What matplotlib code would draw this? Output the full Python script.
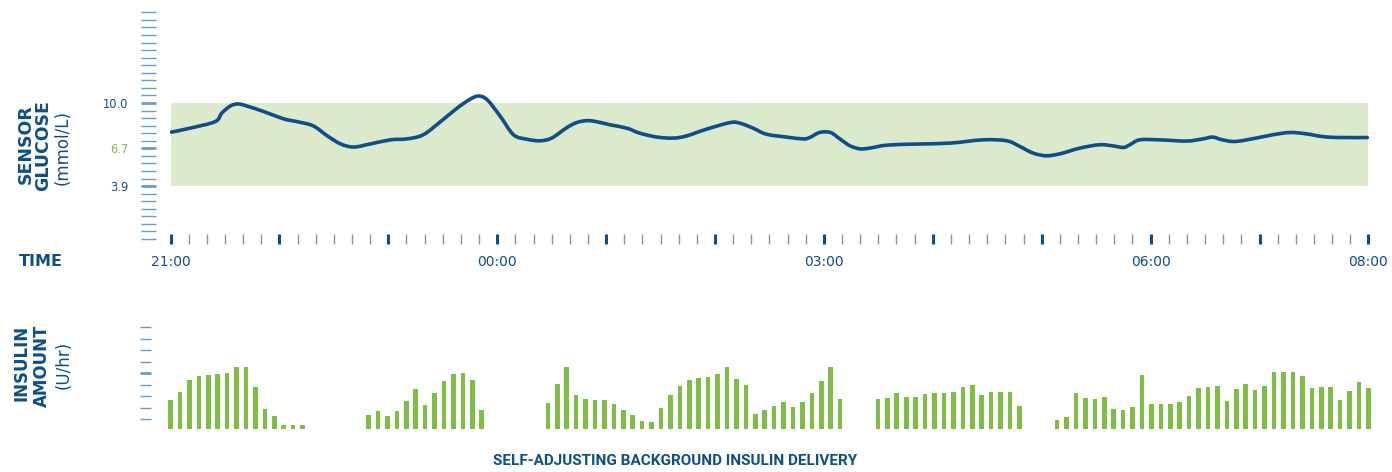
import numpy as np
import matplotlib
matplotlib.use('Agg')
import matplotlib.pyplot as plt
from matplotlib.path import Path
from matplotlib.patches import PathPatch

# sensor glucose trace, hours after 21:00 -> mmol/L
glucose_t = [0.01, 0.18, 0.41, 0.47, 0.55, 0.62, 0.70, 0.86, 1.04, 1.16, 1.31, 1.44,
             1.56, 1.68, 1.83, 2.02, 2.17, 2.32, 2.48, 2.63, 2.75, 2.83, 2.91, 3.03,
             3.15, 3.27, 3.39, 3.50, 3.64, 3.73, 3.82, 3.91, 4.04, 4.19, 4.31, 4.47,
             4.62, 4.74, 4.92, 5.14, 5.23, 5.35, 5.47, 5.66, 5.81, 5.87, 5.96, 6.06,
             6.15, 6.24, 6.33, 6.42, 6.58, 6.85, 7.16, 7.46, 7.68, 7.80, 7.92, 8.04,
             8.17, 8.35, 8.53, 8.65, 8.75, 8.81, 8.90, 9.08, 9.33, 9.48, 9.57, 9.66,
             9.78, 9.97, 10.12, 10.28, 10.43, 10.58, 10.73, 10.99]
glucose_mmol = [7.86, 8.15, 8.63, 9.25, 9.78, 9.93, 9.78, 9.36, 8.83, 8.63, 8.32, 7.58,
                7.00, 6.76, 6.98, 7.29, 7.36, 7.66, 8.63, 9.61, 10.27, 10.51, 10.22, 9.00,
                7.66, 7.34, 7.22, 7.42, 8.19, 8.56, 8.70, 8.63, 8.39, 8.15, 7.78, 7.49,
                7.42, 7.58, 8.07, 8.56, 8.51, 8.15, 7.71, 7.49, 7.36, 7.46, 7.83, 7.83,
                7.34, 6.85, 6.63, 6.68, 6.90, 6.98, 7.05, 7.29, 7.22, 6.80, 6.32, 6.12,
                6.27, 6.68, 6.93, 6.85, 6.73, 6.93, 7.29, 7.29, 7.20, 7.36, 7.49, 7.29,
                7.17, 7.42, 7.66, 7.83, 7.73, 7.53, 7.46, 7.46]

target_low = 3.9
target_high = 10.0

# insulin delivery per slot (128 slots over 21:00-08:00), None = no delivery
insulin_rate = [2.56, 3.29, 4.30, 4.68, 4.74, 4.83, 4.91, 5.44, 5.44, 3.69, 1.77, 1.16, 0.41, 0.41, 0.41,
                None, None, None, None, None, None,
                1.28, 1.57, 1.16, 1.57, 2.44, 3.55, 2.09, 3.20, 4.19, 4.86, 4.94, 4.28, 1.69,
                None, None, None, None, None, None,
                2.27, 3.93, 5.47, 2.97, 2.62, 2.59, 2.59, 2.18, 1.69, 1.28, 0.70, 0.67, 1.83, 2.97,
                3.81, 4.28, 4.45, 4.57, 4.83, 5.44, 4.42, 3.84, 1.34, 1.66, 2.04, 2.39, 1.98, 2.39,
                3.14, 4.22, 5.44, 2.68,
                None, None, None,
                2.68, 2.76, 3.14, 2.85, 2.85, 3.11, 3.20, 3.14, 3.26, 3.66, 3.90, 3.02, 3.23, 3.23,
                3.23, 2.07,
                None, None, None,
                0.79, 1.08, 3.14, 2.76, 2.68, 2.85, 1.80, 1.69, 1.98, 4.71, 2.21, 2.18, 2.21, 2.36,
                2.88, 3.58, 3.66, 3.81, 2.44, 3.52, 3.96, 3.43, 3.81, 5.03, 5.03, 5.03, 4.65, 3.58,
                3.66, 3.66, 2.56, 3.37, 4.10, 3.58]

hour_labels = ['21:00', '', '', '00:00', '', '', '03:00', '', '', '06:00', '', '08:00']

NAVY = '#0c4f8b'
LIGHT = '#6a9bc9'
GREEN = '#7dbe45'
BAND = '#dce9cb'

W, H = 1392, 472
PX_HR = 108.9
X0 = 170.5


def xl(px):
    return (px - X0) / PX_HR


def smooth_path(xs, ys):
    # catmull-rom through the read points, drawn as cubic bezier segments
    x = np.asarray(xs)
    y = np.asarray(ys)
    verts = [(x[0], y[0])]
    codes = [Path.MOVETO]
    n = len(x)
    for i in range(n - 1):
        i0 = max(i - 1, 0)
        i3 = min(i + 2, n - 1)
        c1 = (x[i] + (x[i + 1] - x[i0]) / 6, y[i] + (y[i + 1] - y[i0]) / 6)
        c2 = (x[i + 1] - (x[i3] - x[i]) / 6, y[i + 1] - (y[i3] - y[i]) / 6)
        verts += [c1, c2, (x[i + 1], y[i + 1])]
        codes += [Path.CURVE4] * 3
    return Path(verts, codes)


fig = plt.figure(figsize=(W / 100, H / 100), dpi=100)

# glucose panel
ax = fig.add_axes([156 / W, 233 / H, 1216 / W, 226.7 / H])
ax.fill_between([0, 11], target_low, target_high, color=BAND, lw=0)
ax.add_patch(PathPatch(smooth_path(glucose_t, glucose_mmol), fill=False,
                       edgecolor=NAVY, lw=2.6, joinstyle='round', capstyle='round'))
ax.set_xlim(xl(156), xl(1372))
ax.set_ylim(0, 300 / 18)

yt = np.arange(31) * 10 / 18
ylabs = [''] * 31
ylabs[18] = '10.0'
ylabs[12] = '6.7'
ylabs[7] = '3.9'
ax.set_yticks(yt, ylabs)
ax.tick_params(axis='y', length=10.8, width=1.0, color=LIGHT, pad=9,
               labelsize=8.3, labelcolor=NAVY)
for i, tk in enumerate(ax.yaxis.get_major_ticks()):
    if i in (7, 18):
        tk.tick1line.set_color(NAVY)
        tk.tick1line.set_markeredgewidth(2)
    elif i == 12:
        tk.tick1line.set_color(GREEN)
        tk.tick1line.set_markeredgewidth(2)
        tk.label1.set_color(GREEN)

ax.set_xticks(range(12), hour_labels)
ax.set_xticks(np.arange(0, 11.01, 1 / 6), minor=True)
ax.tick_params(axis='x', which='major', direction='inout', length=7.7, width=2.2,
               color=NAVY, pad=8, labelsize=10, labelcolor=NAVY)
ax.tick_params(axis='x', which='minor', direction='inout', length=7.7, width=1.0,
               color=LIGHT)
for s in ax.spines.values():
    s.set_visible(False)

# insulin panel
ax2 = fig.add_axes([151 / W, 42.7 / H, 1221 / W, 103.1 / H])
slot_t = np.arange(len(insulin_rate)) * 11 / (len(insulin_rate) - 1)
bt = [t for t, v in zip(slot_t, insulin_rate) if v is not None]
bv = [v for v in insulin_rate if v is not None]
ax2.bar(bt, bv, width=0.042, color=GREEN, lw=0)
ax2.set_xlim(xl(151), xl(1372))
ax2.set_ylim(0, 9)
ax2.set_yticks(0.9 + np.arange(9), [''] * 9)
ax2.tick_params(axis='y', length=7.9, width=1.0, color=LIGHT)
ax2.get_yaxis().get_major_ticks()[4].tick1line.set_color(NAVY)
ax2.get_yaxis().get_major_ticks()[4].tick1line.set_markeredgewidth(2)
ax2.set_xticks([])
for s in ax2.spines.values():
    s.set_visible(False)

# side labels
fs = 12.5
fig.text(25.5 / W, 1 - 144 / H, 'SENSOR', rotation=90, ha='center', va='center',
         color=NAVY, fontsize=fs, fontweight='bold')
fig.text(43.5 / W, 1 - 146 / H, 'GLUCOSE', rotation=90, ha='center', va='center',
         color=NAVY, fontsize=fs, fontweight='bold')
fig.text(62.5 / W, 1 - 147.5 / H, '(mmol/L)', rotation=90, ha='center', va='center',
         color=NAVY, fontsize=12)
fig.text(22 / W, 1 - 363 / H, 'INSULIN', rotation=90, ha='center', va='center',
         color=NAVY, fontsize=12, fontweight='bold')
fig.text(42 / W, 1 - 366 / H, 'AMOUNT', rotation=90, ha='center', va='center',
         color=NAVY, fontsize=12, fontweight='bold')
fig.text(63.5 / W, 1 - 365 / H, '(U/hr)', rotation=90, ha='center', va='center',
         color=NAVY, fontsize=12)
fig.text(19 / W, 1 - 262 / H, 'TIME', ha='left', va='center',
         color=NAVY, fontsize=11.5, fontweight='bold')
fig.text(675.5 / W, 1 - 461 / H, 'SELF-ADJUSTING BACKGROUND INSULIN DELIVERY',
         ha='center', va='center', color=NAVY, fontsize=11, fontweight='bold',
         family=['Roboto', 'DejaVu Sans'])

fig.savefig('out.png', dpi=100)
